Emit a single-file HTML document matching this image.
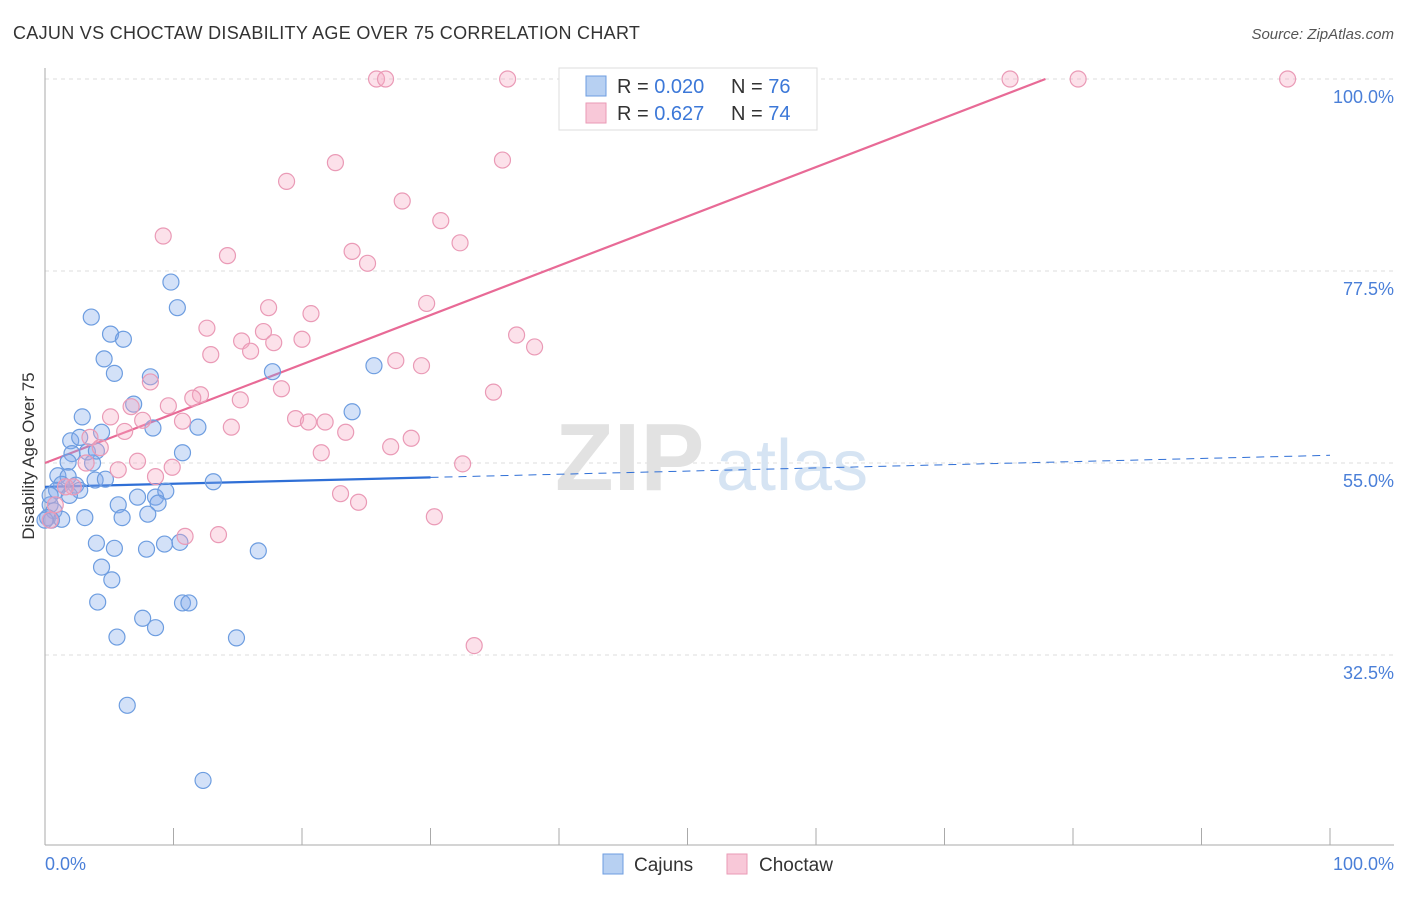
<!DOCTYPE html>
<html><head><meta charset="utf-8">
<style>
body{margin:0;background:#fff;font-family:"Liberation Sans",sans-serif;}
svg text{font-family:"Liberation Sans",sans-serif;}
</style></head>
<body>
<svg id="chart" width="1406" height="892" viewBox="0 0 1406 892" xmlns="http://www.w3.org/2000/svg">
<text x="13" y="39" font-size="18" fill="#333" letter-spacing="0.3">CAJUN VS CHOCTAW DISABILITY AGE OVER 75 CORRELATION CHART</text>
<text x="1394" y="39" font-size="15" fill="#555" text-anchor="end" font-style="italic">Source: ZipAtlas.com</text>
<g id="grid"></g>
<g>
<text x="555" y="490" font-size="96" fill="#e2e2e2" font-family="Liberation Serif, serif" font-weight="bold">ZIP</text>
<text x="716" y="490" font-size="72" fill="#d6e4f3">atlas</text>
</g>
<g id="trend"></g>
<g id="points"></g>
<text transform="translate(34,456) rotate(-90)" font-size="17" fill="#333" text-anchor="middle">Disability Age Over 75</text>
<text x="45" y="870" font-size="18" fill="#4a7fd8">0.0%</text>
<text x="1394" y="870" font-size="18" fill="#4a7fd8" text-anchor="end">100.0%</text>
<g>
<rect x="559" y="68" width="258" height="62" fill="#fff" stroke="#ddd"/>
<rect x="586" y="76" width="20" height="20" fill="#b7d0f2" stroke="#6d9de0"/>
<rect x="586" y="103" width="20" height="20" fill="#f8c8d8" stroke="#ea9ab6"/>
<text x="617" y="93" font-size="20" fill="#333">R = <tspan fill="#3c78d8">0.020</tspan></text>
<text x="731" y="93" font-size="20" fill="#333">N = <tspan fill="#3c78d8">76</tspan></text>
<text x="617" y="120" font-size="20" fill="#333">R =  <tspan fill="#3c78d8">0.627</tspan></text>
<text x="731" y="120" font-size="20" fill="#333">N = <tspan fill="#3c78d8">74</tspan></text>
</g>
<g>
<rect x="603" y="854" width="20" height="20" fill="#b7d0f2" stroke="#6d9de0"/>
<text x="634" y="871" font-size="19" fill="#333">Cajuns</text>
</g>
<g>
<rect x="727" y="854" width="20" height="20" fill="#f8c8d8" stroke="#ea9ab6"/>
<text x="759" y="871" font-size="19" fill="#333">Choctaw</text>
</g>
</svg>
<script>
const yTicks=[100,77.5,55,32.5];
const yTickLabels=["100.0%","77.5%","55.0%","32.5%"];
const xTicks=[0,10,20,30,40,50,60,70,80,90,100];
const cajunX=[9.8,10.3,3.6,5.1,6.1,4.6,5.4,8.2,17.7,25.6,6.9,2.9,8.4,23.9,11.9,2.0,2.7,4.4,3.3,10.7,2.1,3.7,1.8,4.0,1.0,1.8,2.4,3.9,4.7,13.1,1.3,2.7,0.9,1.9,7.2,8.6,9.4,5.7,8.8,0.4,0.7,0.2,0.5,3.1,6.0,8.0,1.3,4.0,5.4,7.9,9.3,10.5,16.6,4.4,5.2,4.1,10.7,11.2,7.6,8.6,5.6,14.9,6.4,12.3,0.0,0.4];
const cajunY=[76.2,73.2,72.1,70.1,69.5,67.2,65.5,65.1,65.7,66.4,61.9,60.4,59.1,61.0,59.2,57.6,58.0,58.6,56.3,56.2,56.1,55.0,55.1,56.4,53.5,53.4,52.4,53.0,53.1,52.8,52.5,51.8,51.8,51.2,51.0,51.0,51.7,50.1,50.3,50.1,49.4,48.6,48.3,48.6,48.6,49.0,48.4,45.6,45.0,44.9,45.5,45.7,44.7,42.8,41.3,38.7,38.6,38.6,36.8,35.7,34.6,34.5,26.6,17.8,48.3,51.2];
const choctawX=[25.8,26.5,36.0,75.1,80.4,96.7,35.6,22.6,18.8,27.8,30.8,9.2,32.3,14.2,23.9,25.1,29.7,17.4,20.7,12.6,17.0,36.7,15.3,38.1,12.9,16.0,17.8,20.0,27.3,29.3,8.2,18.4,12.1,34.9,15.2,11.5,9.6,6.7,5.1,7.6,19.5,20.5,21.8,10.7,14.5,6.2,23.4,28.5,3.5,4.3,21.5,26.9,3.2,7.2,9.9,32.5,5.7,8.6,2.2,23.0,24.4,30.3,10.9,13.5,33.4,0.8,0.4,1.6];
const choctawY=[100,100,100,100,100,100,90.5,90.2,88.0,85.7,83.4,81.6,80.8,79.3,79.8,78.4,73.7,73.2,72.5,70.8,70.4,70.0,69.3,68.6,67.7,68.1,69.1,69.5,67.0,66.4,64.5,63.7,63.0,63.3,62.4,62.6,61.7,61.6,60.4,60.0,60.2,59.8,59.8,59.9,59.2,58.7,58.6,57.9,58.0,56.8,56.2,56.9,55.0,55.2,54.5,54.9,54.2,53.4,52.2,51.4,50.4,48.7,46.4,46.6,33.6,50.1,48.3,52.2];
const cajunTrend=[52.2,55.9];
const choctawTrend=[55.0,112.8];

const NS="http://www.w3.org/2000/svg";
const X=v=>45+v*12.85;
const Y=v=>79+(100-v)*8.533;
function mk(tag,attrs,parent){const e=document.createElementNS(NS,tag);for(const k in attrs)e.setAttribute(k,attrs[k]);parent.appendChild(e);return e;}
const grid=document.getElementById('grid');
yTicks.forEach((t,i)=>{
  const l=mk('line',{x1:45,x2:1394,y1:Y(t),y2:Y(t),stroke:'#ddd','stroke-dasharray':'4,4'},grid);
  
  
  const tx=mk('text',{x:1394,y:Y(t)+24,'font-size':18,fill:'#4a7fd8','text-anchor':'end'},grid);
  tx.textContent=yTickLabels[i];
  
  
});
const ax=mk('line',{x1:45,x2:45,y1:68,y2:845,stroke:'#aaa'},grid);


const bx=mk('line',{x1:45,x2:1394,y1:845,y2:845,stroke:'#aaa'},grid);


xTicks.forEach(t=>{
  const l=mk('line',{x1:X(t),x2:X(t),y1:828,y2:845,stroke:'#aaa'},grid);
  
  
});
const pts=document.getElementById('points');
function drawPts(xs,ys,fill,stroke,name){
  xs.forEach((x,i)=>{
    const c=mk('circle',{cx:X(x),cy:Y(ys[i]),r:8,fill:fill,stroke:stroke,'stroke-width':1.2},pts);
    
    
  });
}
drawPts(cajunX,cajunY,'rgba(130,170,235,0.35)','#6d9de0','cajun-point');
drawPts(choctawX,choctawY,'rgba(245,170,195,0.35)','#ea9ab6','choctaw-point');
const tr=document.getElementById('trend');
const yb=x=>cajunTrend[0]+(cajunTrend[1]-cajunTrend[0])*x/100;
let l1=mk('line',{x1:X(0),y1:Y(yb(0)),x2:X(30),y2:Y(yb(30)),stroke:'#2f6fd6','stroke-width':2.2},tr);


let l2=mk('line',{x1:X(30),y1:Y(yb(30)),x2:X(100),y2:Y(yb(100)),stroke:'#2f6fd6','stroke-width':1,'stroke-dasharray':'8,6'},tr);


const yp=x=>choctawTrend[0]+(choctawTrend[1]-choctawTrend[0])*x/100;
const xEnd=(100-choctawTrend[0])/(choctawTrend[1]-choctawTrend[0])*100;
let l3=mk('line',{x1:X(0),y1:Y(yp(0)),x2:X(xEnd),y2:Y(100),stroke:'#e86a96','stroke-width':2.2},tr);


</script>
</body></html>
